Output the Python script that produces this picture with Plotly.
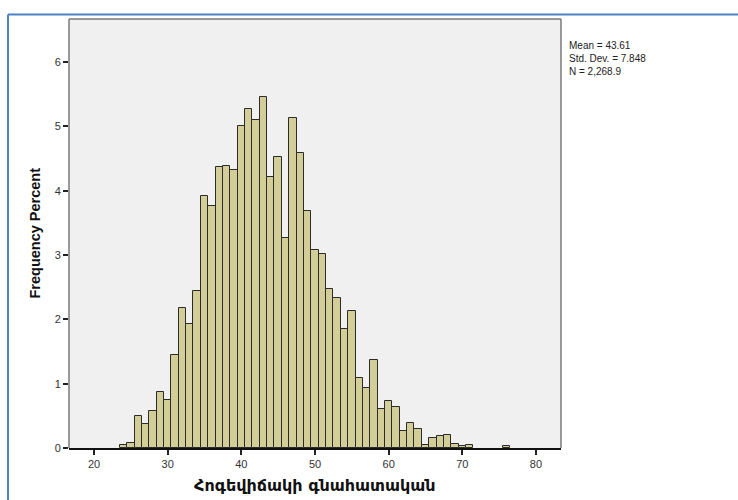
import plotly.graph_objects as go

# Histogram bins (bin centres, width 1) and their frequency percentages
bin_centers = [24, 25, 26, 27, 28, 29, 30, 31, 32, 33, 34, 35, 36, 37, 38, 39,
               40, 41, 42, 43, 44, 45, 46, 47, 48, 49, 50, 51, 52, 53, 54, 55,
               56, 57, 58, 59, 60, 61, 62, 63, 64, 65, 66, 67, 68, 69, 70, 71, 76]
freq_percent = [0.04, 0.08, 0.49, 0.38, 0.57, 0.87, 0.74, 1.44, 2.18, 1.93, 2.44,
                3.92, 3.77, 4.37, 4.39, 4.33, 5.00, 5.27, 5.10, 5.45, 4.21, 4.53,
                3.27, 5.13, 4.58, 3.68, 3.08, 3.02, 2.47, 2.34, 1.85, 2.13, 1.09,
                0.94, 1.37, 0.61, 0.73, 0.63, 0.26, 0.39, 0.30, 0.05, 0.15, 0.19,
                0.20, 0.07, 0.03, 0.05, 0.03]

x_ticks = [20, 30, 40, 50, 60, 70, 80]
y_ticks = [0, 1, 2, 3, 4, 5, 6]

stats_lines = ["Mean = 43.61", "Std. Dev. = 7.848", "N = 2,268.9"]
x_title = "Հոգեվիճակի գնահատական"
y_title = "Frequency Percent"

FONT = "Liberation Sans, Arial, DejaVu Sans, sans-serif"
W, H = 738, 500
L, R, T, B = 69, 177, 19, 52

fig = go.Figure()
fig.add_trace(go.Bar(
    x=bin_centers, y=freq_percent, width=1,
    marker=dict(color="#D3CE97", line=dict(color="#2b2b2b", width=1)),
    hoverinfo="x+y",
))

fig.update_layout(
    width=W, height=H,
    margin=dict(l=L, r=R, t=T, b=B, pad=0),
    paper_bgcolor="white",
    plot_bgcolor="#F0F0F0",
    showlegend=False,
    bargap=0,
    font=dict(family=FONT, size=11, color="#333333"),
    xaxis=dict(
        range=[16.6, 83.4], tickvals=x_ticks, ticktext=[str(v) for v in x_ticks],
        showgrid=False, zeroline=False, ticks="outside", ticklen=5, tickwidth=1.5,
        tickcolor="#222222", showline=True, linecolor="#111111", linewidth=1.5,
        tickfont=dict(family=FONT, size=11, color="#333333"),
    ),
    yaxis=dict(
        range=[0, 6.67], tickvals=y_ticks, ticktext=[str(v) for v in y_ticks],
        showgrid=False, zeroline=False, ticks="outside", ticklen=5, tickwidth=1.5,
        tickcolor="#222222", showline=False,
        tickfont=dict(family=FONT, size=11, color="#333333"),
    ),
)

# Grey frame around the plotting area (bottom edge is the black x axis line)
fig.add_shape(type="line", xref="paper", yref="paper", x0=0, x1=0, y0=0, y1=1,
              line=dict(color="#7a7a7a", width=1.5), layer="above")
fig.add_shape(type="line", xref="paper", yref="paper", x0=1, x1=1, y0=0, y1=1,
              line=dict(color="#7a7a7a", width=1.5), layer="above")
fig.add_shape(type="line", xref="paper", yref="paper", x0=0, x1=1, y0=1, y1=1,
              line=dict(color="#7a7a7a", width=1.5), layer="above")

pw = W - L - R
ph = H - T - B

def px_x(p):
    return (p - L) / pw

def px_y(p):
    return 1 - (p - T) / ph

# Blue outer frame along the top and left edges of the page
fig.add_shape(type="line", xref="paper", yref="paper",
              x0=px_x(8), x1=px_x(W + 5), y0=px_y(14.5), y1=px_y(14.5),
              line=dict(color="#4F81C7", width=2))
fig.add_shape(type="line", xref="paper", yref="paper",
              x0=px_x(8), x1=px_x(8), y0=px_y(14.5), y1=px_y(H + 5),
              line=dict(color="#4F81C7", width=2))

# Summary statistics beside the plot
fig.add_annotation(
    xref="paper", yref="paper", x=px_x(567), y=px_y(38),
    xanchor="left", yanchor="top", align="left", showarrow=False,
    text="<br>".join(stats_lines),
    font=dict(family=FONT, size=10, color="#222222"),
)

# Axis titles
fig.add_annotation(
    xref="paper", yref="paper", x=0.5, y=px_y(485),
    xanchor="center", yanchor="middle", showarrow=False,
    text="<b>" + x_title + "</b>",
    font=dict(family="DejaVu Sans, sans-serif", size=16, color="#111111"),
)
fig.add_annotation(
    xref="paper", yref="paper", x=px_x(34), y=0.5,
    xanchor="center", yanchor="middle", showarrow=False, textangle=-90,
    text="<b>" + y_title + "</b>",
    font=dict(family=FONT, size=14.5, color="#111111"),
)

fig.write_html("out.html")
